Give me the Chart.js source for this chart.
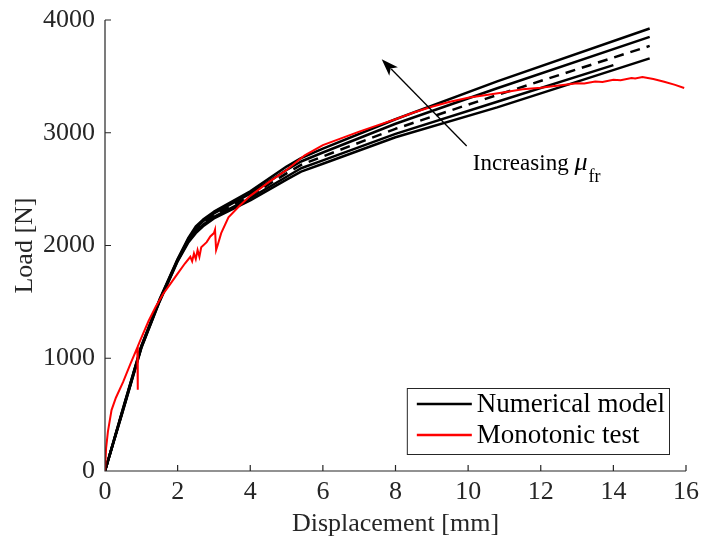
<!DOCTYPE html>
<html>
<head>
<meta charset="utf-8">
<script src="https://cdn.jsdelivr.net/npm/chart.js@4"></script>
<style>
html,body{margin:0;padding:0;background:#fff}
</style>
</head>
<body>
<canvas id="chart" width="703" height="542"></canvas>
<script>
// numerical model curves (5 friction values), displacement [mm] / load [N]
const modelDisp  = [0, 0.5, 1, 1.5, 2, 2.3, 2.5, 2.7, 3, 4, 5, 5.4, 6, 8, 10.8, 15]
const modelDisp4 = [0, 0.5, 1, 1.5, 2, 2.3, 2.5, 2.7, 3, 4, 5, 5.4, 6, 8, 10.8, 14]
const modelLoad1 = [0, 560, 1110, 1520, 1880, 2070, 2170, 2230, 2300, 2480, 2700, 2775, 2860, 3120, 3455, 3925]
const modelLoad2 = [0, 555, 1105, 1515, 1875, 2060, 2155, 2215, 2285, 2460, 2670, 2745, 2825, 3080, 3395, 3850]
const modelLoad3 = [0, 550, 1100, 1510, 1870, 2050, 2140, 2200, 2270, 2440, 2640, 2715, 2790, 3035, 3335, 3770]
const modelLoad4 = [0, 545, 1095, 1505, 1865, 2040, 2125, 2185, 2255, 2420, 2610, 2685, 2755, 2990, 3275, 3600]
const modelLoad5 = [0, 540, 1090, 1500, 1860, 2030, 2110, 2170, 2240, 2400, 2585, 2655, 2725, 2960, 3225, 3660]

// monotonic test
const testDisp = [0, 0.03, 0.08, 0.18, 0.3, 0.5, 0.7, 0.89, 0.9, 0.905, 1.0, 1.2, 1.4, 1.6, 1.8, 2.0, 2.2, 2.35, 2.4, 2.45, 2.5, 2.55, 2.6, 2.65, 2.8, 2.9, 3.0, 3.03, 3.06, 3.1, 3.2, 3.4, 3.7, 4.0, 4.5, 5.0, 5.5, 6.0, 6.5, 7.0, 7.5, 8.0, 8.5, 9.0, 9.5, 10.0, 10.5, 11.0, 11.5, 12.0, 12.5, 13.0, 13.2, 13.5, 13.7, 14.0, 14.2, 14.5, 14.6, 14.8, 15.1, 15.4, 15.7, 15.95]
const testLoad = [0, 200, 350, 540, 650, 790, 950, 1095, 720, 1105, 1180, 1330, 1460, 1570, 1660, 1750, 1840, 1900, 1860, 1930, 1880, 1960, 1900, 1985, 2030, 2080, 2110, 2140, 1960, 2000, 2110, 2250, 2350, 2440, 2560, 2670, 2800, 2890, 2950, 3010, 3065, 3120, 3180, 3230, 3275, 3310, 3335, 3360, 3385, 3400, 3420, 3440, 3436, 3455, 3450, 3470, 3466, 3485, 3482, 3494, 3476, 3452, 3425, 3397]

const xTicks = [0, 2, 4, 6, 8, 10, 12, 14, 16]
const yTicks = [0, 1000, 2000, 3000, 4000]

const legendNames = ['Numerical model', 'Monotonic test']
const legendColors = ['#000000', '#ff0000']

// annotation arrow (data coords)
const arrowFrom = [9.96, 2882]
const arrowTo = [7.62, 3651]
const noteAt = [10.13, 2670]

const pts = (xs, ys) => xs.map((x, i) => ({x: x, y: ys[i]}))

const black = (d, dash) => ({
  data: d,
  borderColor: '#000',
  borderWidth: 2.5,
  borderDash: dash || [],
  pointRadius: 0,
  tension: 0,
  borderJoinStyle: 'round',
  fill: false
})

const axisPlugin = {
  id: 'axisPlugin',
  afterDatasetsDraw(chart) {
    const ctx = chart.ctx
    const a = chart.chartArea
    const xs = chart.scales.x, ys = chart.scales.y
    ctx.save()
    ctx.strokeStyle = '#262626'
    ctx.lineWidth = 1.2
    ctx.beginPath()
    ctx.moveTo(a.left, a.top); ctx.lineTo(a.left, a.bottom); ctx.lineTo(a.right, a.bottom)
    for (const t of xTicks) {
      const px = xs.getPixelForValue(t)
      ctx.moveTo(px, a.bottom); ctx.lineTo(px, a.bottom - 6)
    }
    for (const t of yTicks) {
      const py = ys.getPixelForValue(t)
      ctx.moveTo(a.left, py); ctx.lineTo(a.left + 6, py)
    }
    ctx.stroke()

    // arrow
    const x0 = xs.getPixelForValue(arrowFrom[0]), y0 = ys.getPixelForValue(arrowFrom[1])
    const x1 = xs.getPixelForValue(arrowTo[0]), y1 = ys.getPixelForValue(arrowTo[1])
    const ang = Math.atan2(y1 - y0, x1 - x0)
    const hl = 17, hw = 6
    ctx.strokeStyle = '#000'
    ctx.lineWidth = 1.3
    ctx.beginPath()
    ctx.moveTo(x0, y0)
    ctx.lineTo(x1 - Math.cos(ang) * hl * 0.8, y1 - Math.sin(ang) * hl * 0.8)
    ctx.stroke()
    ctx.fillStyle = '#000'
    ctx.beginPath()
    ctx.moveTo(x1, y1)
    ctx.lineTo(x1 - Math.cos(ang) * hl + Math.sin(ang) * hw, y1 - Math.sin(ang) * hl - Math.cos(ang) * hw)
    ctx.lineTo(x1 - Math.cos(ang) * hl * 0.75, y1 - Math.sin(ang) * hl * 0.75)
    ctx.lineTo(x1 - Math.cos(ang) * hl - Math.sin(ang) * hw, y1 - Math.sin(ang) * hl + Math.cos(ang) * hw)
    ctx.closePath()
    ctx.fill()

    // note text
    let tx = xs.getPixelForValue(noteAt[0]), ty = ys.getPixelForValue(noteAt[1])
    ctx.textBaseline = 'alphabetic'
    ctx.textAlign = 'left'
    ctx.fillStyle = '#000'
    ctx.font = '23px "Liberation Serif"'
    ctx.fillText('Increasing ', tx, ty)
    tx += ctx.measureText('Increasing ').width
    ctx.font = 'italic 26px "Liberation Serif"'
    ctx.fillText('μ', tx, ty)
    tx += ctx.measureText('μ').width + 1
    ctx.font = '18px "Liberation Serif"'
    ctx.fillText('fr', tx, ty + 12)

    // legend box
    ctx.font = '27px "Liberation Serif"'
    let tw = 0
    legendNames.forEach(n => { tw = Math.max(tw, ctx.measureText(n).width) })
    const bw = 10 + 55 + 5 + tw + 4, bh = 66
    const bx = a.right - 17 - bw, by = a.bottom - 17 - bh
    ctx.fillStyle = '#fff'
    ctx.fillRect(bx, by, bw, bh)
    ctx.strokeStyle = '#262626'
    ctx.lineWidth = 1
    ctx.strokeRect(bx + 0.5, by + 0.5, bw, bh)
    legendNames.forEach((n, i) => {
      const ly = by + 16 + i * 31
      ctx.strokeStyle = legendColors[i]
      ctx.lineWidth = 2.5
      ctx.beginPath(); ctx.moveTo(bx + 10, ly); ctx.lineTo(bx + 65, ly); ctx.stroke()
      ctx.fillStyle = '#000'
      ctx.textBaseline = 'middle'
      ctx.fillText(n, bx + 70, ly + 1)
    })
    ctx.restore()
  }
}

Chart.defaults.font.family = '"Liberation Serif"'

new Chart(document.getElementById('chart'), {
  type: 'line',
  data: {
    datasets: [
      {
        data: pts(testDisp, testLoad),
        borderColor: '#ff0000',
        borderWidth: 2,
        pointRadius: 0,
        tension: 0,
        fill: false
      },
      black(pts(modelDisp, modelLoad1)),
      black(pts(modelDisp, modelLoad2)),
      black(pts(modelDisp, modelLoad3), [10, 7]),
      black(pts(modelDisp4, modelLoad4)),
      black(pts(modelDisp, modelLoad5))
    ]
  },
  options: {
    responsive: false,
    animation: false,
    devicePixelRatio: 1,
    layout: {padding: {top: 20, right: 17, left: 0, bottom: 0}},
    plugins: {legend: {display: false}, tooltip: {enabled: false}},
    scales: {
      x: {
        type: 'linear', min: 0, max: 16,
        afterFit: s => { s.height = 71; s.paddingLeft = 0; s.paddingRight = 0 },
        afterBuildTicks: s => { s.ticks = xTicks.map(v => ({value: v})) },
        grid: {display: false, drawTicks: false},
        border: {display: false},
        ticks: {font: {size: 26}, color: '#262626', padding: 6, maxRotation: 0, callback: v => String(v)},
        title: {display: true, text: 'Displacement [mm]', font: {size: 26}, color: '#262626', padding: {top: 0, bottom: 2}}
      },
      y: {
        type: 'linear', min: 0, max: 4000,
        afterFit: s => { s.width = 105; s.paddingTop = 0; s.paddingBottom = 0 },
        afterBuildTicks: s => { s.ticks = yTicks.map(v => ({value: v})) },
        grid: {display: false, drawTicks: false},
        border: {display: false},
        ticks: {font: {size: 26}, color: '#262626', padding: 10, callback: v => String(v)},
        title: {display: true, text: 'Load [N]', font: {size: 26}, color: '#262626', padding: {top: 10, bottom: 0}}
      }
    }
  },
  plugins: [axisPlugin]
})
</script>
</body>
</html>
